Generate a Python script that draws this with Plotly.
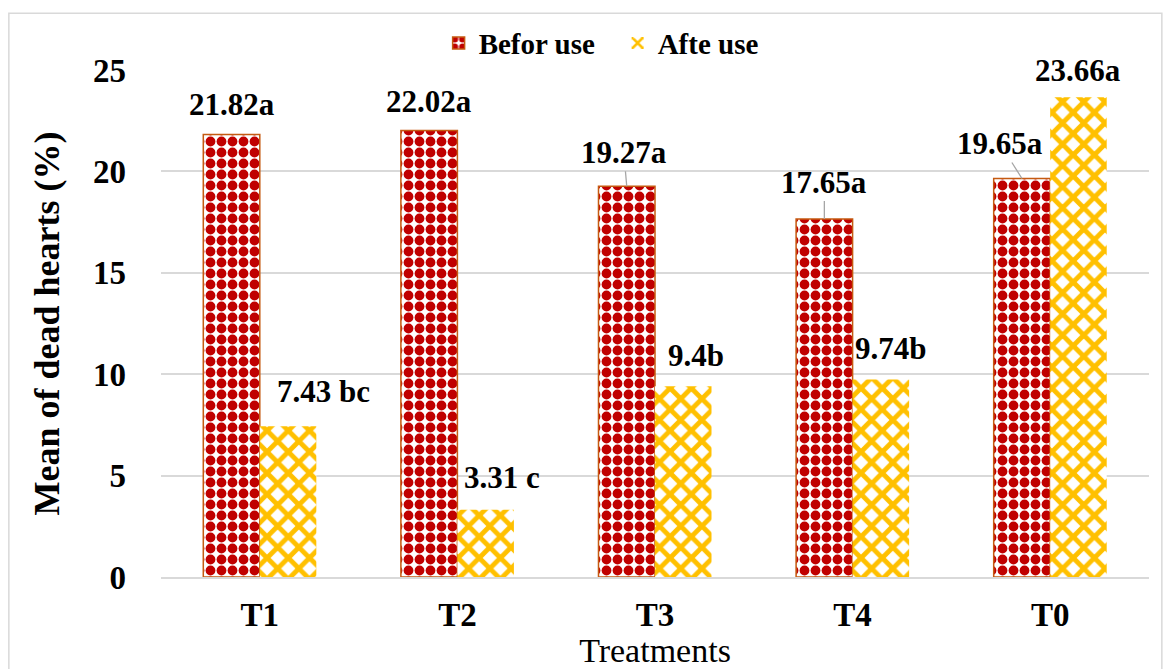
import plotly.graph_objects as go

categories = ["T1", "T2", "T3", "T4", "T0"]
before_use = [21.82, 22.02, 19.27, 17.65, 19.65]
after_use = [7.43, 3.31, 9.40, 9.74, 23.66]
before_labels = ["21.82a", "22.02a", "19.27a", "17.65a", "19.65a"]
after_labels = ["7.43 bc", "3.31 c", "9.4b", "9.74b", "23.66a"]

FONT = "Liberation Serif, Times New Roman, serif"

# label offsets (pixels from bar top) and whether a leader line is drawn
before_off = [(0, -30, False), (0, -29, False), (-3, -34, True), (0, -37, True), (-22, -35, True)]
after_off = [(35, -35, False), (16, -32, False), (13, -31, False), (10, -31, False), (0, -27, False)]

fig = go.Figure()
fig.add_trace(go.Bar(
    name="Befor use", x=categories, y=before_use,
    marker=dict(color="#C00000",
                line=dict(color="#C55A11", width=1.5),
                pattern=dict(shape=".", fgcolor="#C00000", bgcolor="white",
                             size=11, solidity=0.62, fillmode="replace")),
))
fig.add_trace(go.Bar(
    name="Afte use", x=categories, y=after_use,
    marker=dict(color="#FFC000",
                line=dict(color="rgba(0,0,0,0)", width=0),
                pattern=dict(shape="x", fgcolor="#FFC000", bgcolor="white",
                             size=15, solidity=0.55, fillmode="replace")),
))

BAR_HALF = 28.25
annotations = []
for cat, val, lab, (ax, ay, lead) in zip(categories, before_use, before_labels, before_off):
    annotations.append(dict(
        x=cat, y=val, xref="x", yref="y", xshift=-BAR_HALF, text=lab,
        showarrow=True, ax=ax, ay=ay, arrowhead=0, arrowwidth=1.3,
        arrowcolor="#A6A6A6" if lead else "rgba(0,0,0,0)",
        font=dict(family=FONT, size=31, color="black", weight="bold")))
for cat, val, lab, (ax, ay, lead) in zip(categories, after_use, after_labels, after_off):
    annotations.append(dict(
        x=cat, y=val, xref="x", yref="y", xshift=BAR_HALF, text=lab,
        showarrow=True, ax=ax, ay=ay, arrowhead=0, arrowwidth=1.3,
        arrowcolor="#A6A6A6" if lead else "rgba(0,0,0,0)",
        font=dict(family=FONT, size=31, color="black", weight="bold")))

fig.update_layout(
    width=1166, height=661,
    margin=dict(l=153, r=25, t=62, b=92, autoexpand=False),
    paper_bgcolor="white", plot_bgcolor="white",
    font=dict(family=FONT, color="black"),
    barmode="group", bargap=0.428, bargroupgap=0,
    showlegend=True,
    legend=dict(orientation="h", x=0.281, y=1.053, xanchor="left", yanchor="middle",
                font=dict(family=FONT, size=29, color="black", weight="bold"),
                bgcolor="rgba(0,0,0,0)", itemwidth=30, traceorder="normal",
                entrywidth=134, entrywidthmode="pixels"),
    annotations=annotations,
    xaxis=dict(
        showline=True, linecolor="#D9D9D9", linewidth=1.5, showgrid=False,
        ticks="", tickfont=dict(family=FONT, size=33, color="black", weight="bold"),
        ticklabelstandoff=8, automargin=False,
        title=dict(text="Treatments", font=dict(family=FONT, size=34, color="black"), standoff=2),
    ),
    yaxis=dict(
        range=[0, 25], tickvals=[0, 5, 10, 15, 20, 25],
        showline=False, showgrid=True, gridcolor="#D9D9D9", gridwidth=1.5, zeroline=False,
        ticks="", tickfont=dict(family=FONT, size=33, color="black", weight="bold"),
        ticklabelstandoff=34, automargin=False,
        title=dict(text="Mean of dead hearts (%)",
                   font=dict(family=FONT, size=36, color="black", weight="bold"), standoff=22),
    ),
    shapes=[dict(type="rect", xref="paper", yref="paper",
                 x0=-0.154, x1=1.013, y0=-0.2, y1=1.112,
                 line=dict(color="#D9D9D9", width=1.5), fillcolor="rgba(0,0,0,0)", layer="below")],
)

fig.write_html("out.html")
